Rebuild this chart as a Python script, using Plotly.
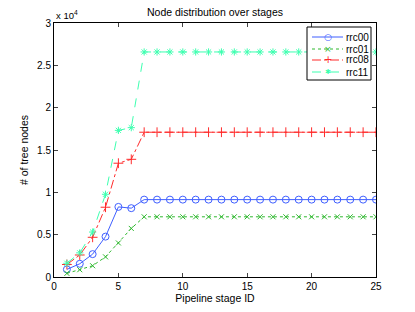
import plotly.graph_objects as go

stages = list(range(1, 26))
rrc00 = [900, 1560, 2700, 4770, 8280, 8130] + [9140] * 19
rrc01 = [430, 860, 1330, 2380, 4020, 5740] + [7110] * 19
rrc08 = [1480, 2600, 4690, 8240, 13440, 13900] + [17100] * 19
rrc11 = [1620, 2850, 5310, 9770, 17320, 17640] + [26580] * 19

series = [
    ("rrc00", rrc00, "#3f5fff", "solid", "circle-open", 7, "○", 9),
    ("rrc01", rrc01, "#2eb82e", "dot", "x-thin-open", 5, "×", 9),
    ("rrc08", rrc08, "#ff2a2a", "dashdot", "cross-thin-open", 7, "+", 10),
    ("rrc11", rrc11, "#3dffb0", "dash", "asterisk-open", 6, "✱", 7),
]

ytick_vals = [0, 5000, 10000, 15000, 20000, 25000, 30000]
ytick_text = ["0", "0.5", "1", "1.5", "2", "2.5", "3"]
xtick_vals = [0, 5, 10, 15, 20, 25]

fig = go.Figure()
for name, vals, color, dash, sym, size, _, _ in series:
    fig.add_trace(go.Scatter(
        x=stages, y=vals, name=name, mode="lines+markers",
        line=dict(color=color, width=1, dash=dash),
        marker=dict(symbol=sym, size=size, color=color, line=dict(color=color, width=1)),
        showlegend=False,
    ))

W, H = 415, 312
ML, MR, MT, MB = 46, 47, 15, 43
PW, PH = W - ML - MR, H - MT - MB


def px(X):
    return (X - ML) / PW


def py(Y):
    return (H - MB - Y) / PH


# compact legend drawn with shapes/annotations (plotly's own legend rows are taller)
shapes = [dict(type="rect", xref="paper", yref="paper", x0=px(299), x1=px(363),
               y0=py(72), y1=py(19), fillcolor="white",
               line=dict(color="black", width=1), layer="above")]
annotations = []
row_y = [29, 41, 52, 64]
for i, (name, vals, color, dash, sym, size, glyph, gsize) in enumerate(series):
    yy = py(row_y[i])
    shapes.append(dict(type="line", xref="paper", yref="paper", x0=px(304), x1=px(335),
                       y0=yy, y1=yy, line=dict(color=color, width=1, dash=dash),
                       layer="above"))
    annotations.append(dict(text=glyph, xref="paper", yref="paper", x=px(319.5), y=yy,
                            xanchor="center", yanchor="middle", showarrow=False,
                            borderpad=0,
                            font=dict(size=gsize, color=color, family="DejaVu Sans")))
    annotations.append(dict(text=name, xref="paper", yref="paper", x=px(337), y=yy,
                            xanchor="left", yanchor="middle", showarrow=False,
                            borderpad=0, font=dict(size=10)))

annotations.append(dict(text="x 10<sup>4</sup>", xref="paper", yref="paper",
                        x=0, y=1, xanchor="left", yanchor="bottom", showarrow=False,
                        font=dict(size=9.5)))

font = "Liberation Sans, Arial, sans-serif"
fig.update_layout(
    width=W, height=H,
    margin=dict(l=ML, r=MR, t=MT, b=MB),
    paper_bgcolor="white", plot_bgcolor="white",
    font=dict(family=font, size=10, color="black"),
    title=dict(text="Node distribution over stages", x=0.5, xref="paper",
               y=1, yanchor="top", pad=dict(t=1), font=dict(size=10.5)),
    showlegend=False,
    shapes=shapes,
    annotations=annotations,
    xaxis=dict(range=[0, 25], tickvals=xtick_vals, ticks="inside", ticklen=4,
               showline=True, linecolor="black", linewidth=1, mirror="ticks",
               showgrid=False, zeroline=False, automargin=False,
               title=dict(text="Pipeline stage ID", standoff=2, font=dict(size=10.5))),
    yaxis=dict(range=[0, 30000], tickvals=ytick_vals, ticktext=ytick_text,
               ticks="inside", ticklen=4,
               showline=True, linecolor="black", linewidth=1, mirror="ticks",
               showgrid=False, zeroline=False, automargin=False,
               title=dict(text="# of tree nodes", standoff=6, font=dict(size=10.5))),
)
fig.write_html("out.html")
